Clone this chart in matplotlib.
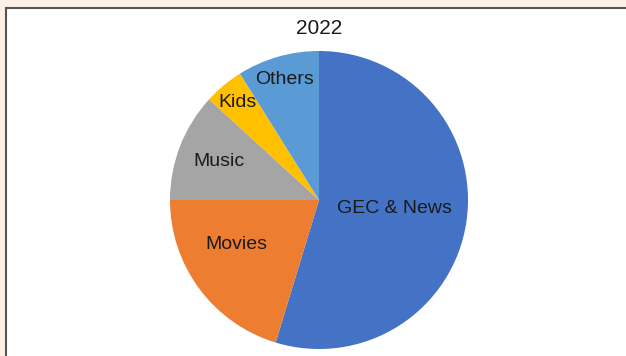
import numpy as np
import matplotlib
matplotlib.use("Agg")
import matplotlib.pyplot as plt
from matplotlib.patches import Rectangle

# Data
title = "2022"
categories = ["GEC & News", "Movies", "Music", "Kids", "Others"]
shares = [54.7, 20.3, 11.8, 4.3, 8.9]
colors = ["#4472C4", "#ED7D31", "#A5A5A5", "#FFC000", "#5B9BD5"]
# label placement: radius fraction and angle nudge (degrees)
label_dist = [0.51, 0.63, 0.72, 0.85, 0.84]
label_nudge = [2, -8, 0, 0, 0]

plt.rcParams["font.family"] = ["Liberation Sans", "DejaVu Sans"]

W, H = 626, 356
fig = plt.figure(figsize=(W / 100, H / 100), dpi=100)
fig.patch.set_facecolor("#FDF0E6")

# white panel with dark border on left/top
panel = Rectangle((6 / W, -0.05), 1.1, (356 - 8) / H + 0.05, transform=fig.transFigure,
                  facecolor="white", edgecolor="#555555", linewidth=1.5, zorder=-5)
fig.patches.append(panel)

cx, cy, r = 319, 200, 149
ax = fig.add_axes([(cx - r) / W, (H - cy - r) / H, 2 * r / W, 2 * r / H])
ax.set_facecolor("none")
ax.set_zorder(2)

wedges, texts = ax.pie(shares, colors=colors, startangle=90, counterclock=False,
                       labels=categories, radius=1,
                       wedgeprops=dict(linewidth=0),
                       textprops=dict(fontsize=14, color="#1a1a1a"))
for w, t, d, n in zip(wedges, texts, label_dist, label_nudge):
    mid = np.deg2rad((w.theta1 + w.theta2) / 2 + n)
    t.set_position((d * np.cos(mid), d * np.sin(mid)))
    t.set_ha("center")
    t.set_va("center")

ax.set_xlim(-1, 1)
ax.set_ylim(-1, 1)
ax.set_aspect("equal")
ax.axis("off")

fig.text(cx / W, 1 - 29 / H, title, ha="center", va="center", fontsize=15, color="#1a1a1a")

fig.savefig("out.png", dpi=100, facecolor=fig.get_facecolor())
